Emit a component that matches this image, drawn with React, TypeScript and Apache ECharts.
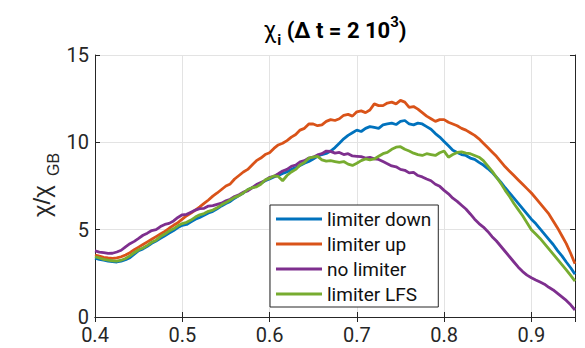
import React, { useEffect, useRef } from "react";
import * as echarts from "echarts";

// x positions (rho), step 0.005 from 0.40 to 0.95
const xStart = 0.4;
const xStep = 0.005;

const limiterDown = [
  3.37, 3.3, 3.25, 3.2, 3.17, 3.15, 3.2, 3.28, 3.4, 3.6,
  3.8, 3.9, 4.05, 4.22, 4.35, 4.5, 4.65, 4.8, 4.95, 5.12,
  5.25, 5.3, 5.45, 5.6, 5.7, 5.82, 5.95, 6.05, 6.2, 6.36,
  6.5, 6.62, 6.8, 6.95, 7.1, 7.28, 7.4, 7.5, 7.65, 7.8,
  7.9, 8.02, 8.1, 8.22, 8.3, 8.45, 8.55, 8.68, 8.8, 8.9,
  9.05, 9.2, 9.3, 9.36, 9.5, 9.7, 9.95, 10.2, 10.4, 10.55,
  10.7, 10.62, 10.8, 10.9, 10.85, 10.8, 11.0, 11.05, 11.1, 11.02,
  11.2, 11.25, 11.05, 11.0, 11.1, 11.05, 10.9, 10.75, 10.5, 10.3,
  10.05, 9.8, 9.55, 9.42, 9.3, 9.25, 9.1, 9.02, 8.85, 8.7,
  8.5, 8.28, 8.0, 7.72, 7.4, 7.1, 6.8, 6.5, 6.2, 5.9,
  5.6, 5.35, 5.05, 4.75, 4.45, 4.15, 3.8, 3.5, 3.15, 2.82,
  2.45,
];

const limiterUp = [
  3.55, 3.48, 3.42, 3.38, 3.36, 3.38, 3.45, 3.55, 3.68, 3.85,
  4.0, 4.15, 4.3, 4.45, 4.6, 4.75, 4.9, 5.08, 5.25, 5.4,
  5.6, 5.8, 5.95, 6.12, 6.3, 6.5, 6.7, 6.92, 7.1, 7.3,
  7.5, 7.62, 7.9, 8.1, 8.3, 8.45, 8.7, 8.95, 9.1, 9.3,
  9.4, 9.65, 9.85, 9.95, 10.1, 10.3, 10.45, 10.7, 10.8, 11.05,
  11.05, 10.95, 11.0, 11.2, 11.3, 11.25, 11.35, 11.55, 11.6, 11.5,
  11.75, 11.8, 11.7, 11.85, 12.2, 12.1, 12.1, 12.25, 12.3, 12.2,
  12.4, 12.3, 12.0, 12.05, 11.9, 11.7, 11.5, 11.35, 11.2, 11.3,
  11.3, 11.15, 11.05, 10.95, 10.8, 10.7, 10.55, 10.4, 10.2, 9.95,
  9.7, 9.45, 9.2, 8.9, 8.6, 8.35, 8.1, 7.85, 7.6, 7.35,
  7.1, 6.8, 6.5, 6.2, 5.9, 5.5, 5.1, 4.65, 4.2, 3.65,
  3.05,
];

const noLimiter = [
  3.78, 3.72, 3.68, 3.64, 3.65, 3.72, 3.82, 4.02, 4.2, 4.33,
  4.5, 4.68, 4.8, 4.95, 5.0, 5.18, 5.3, 5.36, 5.5, 5.7,
  5.85, 5.88, 6.0, 6.12, 6.2, 6.22, 6.35, 6.38, 6.45, 6.52,
  6.65, 6.74, 6.9, 7.0, 7.15, 7.22, 7.4, 7.58, 7.7, 7.82,
  8.0, 8.05, 8.2, 8.36, 8.45, 8.62, 8.7, 8.88, 8.95, 9.1,
  9.15, 9.28, 9.35, 9.5, 9.48, 9.38, 9.42, 9.3, 9.35, 9.22,
  9.2, 9.18, 9.1, 9.14, 9.05, 9.02, 8.9, 8.78, 8.65, 8.6,
  8.45, 8.4, 8.25, 8.28, 8.1, 8.02, 7.9, 7.8, 7.6, 7.48,
  7.25, 7.05, 6.8, 6.62, 6.4, 6.18, 5.9, 5.6, 5.35, 5.15,
  4.9, 4.6, 4.35, 4.05, 3.75, 3.45, 3.15, 2.85, 2.6, 2.4,
  2.25, 2.12, 2.0, 1.88, 1.7, 1.55, 1.35, 1.15, 0.95, 0.7,
  0.4,
];

const limiterLFS = [
  3.45, 3.38, 3.3, 3.25, 3.22, 3.2, 3.25, 3.35, 3.5, 3.68,
  3.85, 3.95, 4.1, 4.28, 4.4, 4.6, 4.75, 4.92, 5.05, 5.22,
  5.35, 5.42, 5.55, 5.72, 5.85, 5.92, 6.05, 6.12, 6.25, 6.42,
  6.55, 6.7, 6.85, 6.95, 7.1, 7.3, 7.4, 7.45, 7.6, 7.85,
  7.95, 8.08, 8.05, 7.8, 8.1, 8.3, 8.45, 8.7, 8.85, 9.1,
  9.15, 9.2, 9.0, 8.92, 8.95, 8.9, 8.85, 8.9, 8.75, 8.68,
  8.8, 8.95, 9.05, 9.0, 9.05, 9.2, 9.35, 9.42, 9.6, 9.72,
  9.75, 9.6, 9.5, 9.38, 9.3, 9.25, 9.35, 9.3, 9.25, 9.4,
  9.5, 9.15, 9.3, 9.42, 9.45, 9.38, 9.35, 9.25, 9.15, 8.95,
  8.65, 8.35, 8.0, 7.65, 7.25, 6.9, 6.5, 6.15, 5.8, 5.4,
  5.0, 4.75, 4.5, 4.2, 3.9, 3.6, 3.3, 3.0, 2.7, 2.38,
  2.05,
];

const seriesNames = ["limiter down", "limiter up", "no limiter", "limiter LFS"];
const seriesColors = ["#0072BD", "#D95319", "#7E2F8E", "#77AC30"];
const seriesValues = [limiterDown, limiterUp, noLimiter, limiterLFS];

const FONT = "Roboto, 'Liberation Sans', Arial, sans-serif";
const AX = "#262626";

function toPairs(vals: number[]) {
  return vals.map((v, i) => [+(xStart + i * xStep).toFixed(3), v]);
}

export default function App() {
  const ref = useRef<HTMLDivElement>(null);
  useEffect(() => {
    if (!ref.current) return;
    const chart = echarts.init(ref.current, undefined, { renderer: "svg" });
    const tickCommon = { show: true, inside: true, length: 5, lineStyle: { color: AX, width: 1 } };
    const option: any = {
      animation: false,
      backgroundColor: "#ffffff",
      grid: { left: 95, right: 10, top: 55, bottom: 31, containLabel: false },
      xAxis: [
        {
          type: "value",
          min: 0.4,
          max: 0.95,
          interval: 0.1,
          position: "bottom",
          axisLine: { show: true, lineStyle: { color: AX, width: 1 } },
          axisTick: tickCommon,
          axisLabel: {
            color: AX,
            fontSize: 20,
            fontFamily: FONT,
            margin: 8,
            showMaxLabel: false,
            formatter: (v: number) => (Math.abs(v - 0.95) < 1e-6 ? "" : v.toFixed(1)),
          },
          splitLine: { show: true, lineStyle: { color: "#e3e3e3", width: 1 } },
        },
        {
          type: "value",
          min: 0.4,
          max: 0.95,
          interval: 0.1,
          position: "top",
          axisLine: { show: true, lineStyle: { color: AX, width: 1 } },
          axisTick: tickCommon,
          axisLabel: { show: false },
          splitLine: { show: false },
        },
      ],
      yAxis: [
        {
          type: "value",
          min: 0,
          max: 15,
          interval: 5,
          position: "left",
          axisLine: { show: true, lineStyle: { color: AX, width: 1 } },
          axisTick: tickCommon,
          axisLabel: { color: AX, fontSize: 20, fontFamily: FONT, margin: 6 },
          splitLine: { show: true, lineStyle: { color: "#e3e3e3", width: 1 } },
        },
        {
          type: "value",
          min: 0,
          max: 15,
          interval: 5,
          position: "right",
          axisLine: { show: true, lineStyle: { color: AX, width: 1 } },
          axisTick: tickCommon,
          axisLabel: { show: false },
          splitLine: { show: false },
        },
      ],
      legend: {
        orient: "vertical",
        left: 270,
        top: 205,
        padding: [3, 7, 2, 6],
        itemGap: 3,
        itemWidth: 46,
        itemHeight: 3,
        icon: "rect",
        selectedMode: false,
        backgroundColor: "#ffffff",
        borderColor: AX,
        borderWidth: 1,
        borderRadius: 0,
        textStyle: { fontSize: 19, lineHeight: 22, color: "#111", fontWeight: "normal", fontFamily: FONT },
        data: seriesNames,
      },
      series: seriesValues.map((vals, i) => ({
        name: seriesNames[i],
        type: "line",
        xAxisIndex: 0,
        yAxisIndex: 0,
        data: toPairs(vals),
        showSymbol: false,
        symbol: "none",
        color: seriesColors[i],
        lineStyle: { color: seriesColors[i], width: 2.8 },
      })),
      graphic: [
        {
          type: "text",
          x: 335,
          y: 30,
          style: {
            text: "{c|χ}{s|i}{m| (Δ t = 2 10}{p|3}{m|)}",
            align: "center",
            verticalAlign: "middle",
            fill: "#000",
            rich: {
              c: { fontSize: 23, fontFamily: FONT, fontWeight: "normal", fill: "#000" },
              m: { fontSize: 22, fontFamily: FONT, fontWeight: "bold", fill: "#000" },
              s: { fontSize: 15, fontFamily: FONT, fontWeight: "bold", fill: "#000", padding: [20, 0, 0, 1] },
              p: { fontSize: 15, fontFamily: FONT, fontWeight: "bold", fill: "#000", padding: [0, 0, 16, 0] },
            },
          },
        },
        // y-axis label  χ/χ_GB  (reads bottom to top)
        {
          type: "text",
          x: 29,
          y: 217,
          rotation: Math.PI / 2,
          style: { text: "χ/χ", fontSize: 24, fill: AX },
        },
        {
          type: "text",
          x: 45,
          y: 176,
          rotation: Math.PI / 2,
          style: { text: "GB", fontSize: 16, fill: AX },
        },
      ],
    };
    chart.setOption(option);
    return () => chart.dispose();
  }, []);
  return (
    <div
      ref={ref}
      style={{ position: "absolute", left: 0, top: 0, width: 585, height: 348, background: "#fff" }}
    />
  );
}
